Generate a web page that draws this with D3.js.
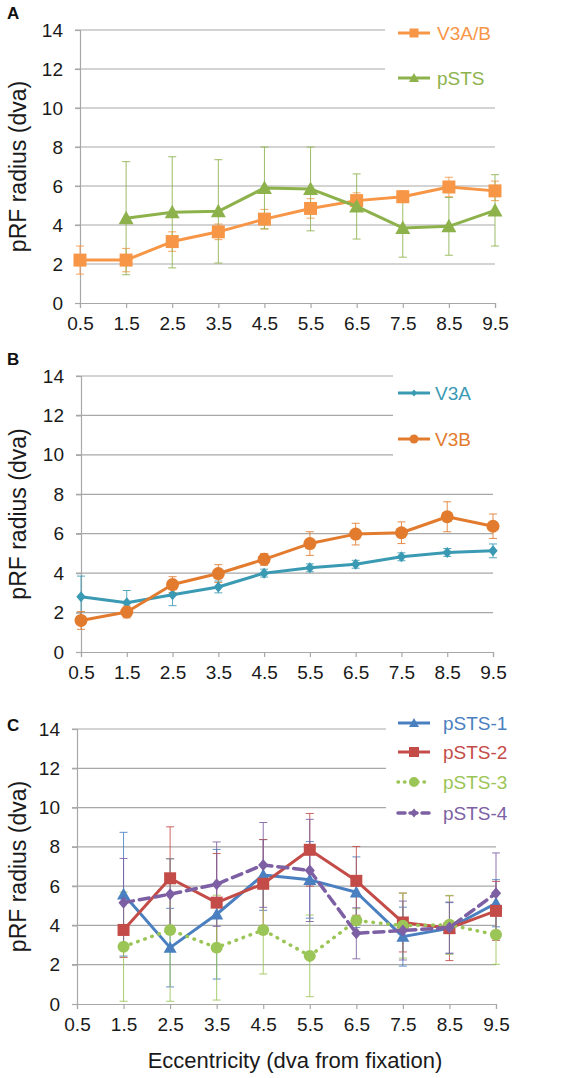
<!DOCTYPE html>
<html><head><meta charset="utf-8">
<script src="https://cdn.jsdelivr.net/npm/d3@7"></script>
<style>
html,body{margin:0;padding:0;background:#fff;}
svg{display:block;font-family:"Liberation Sans",Arial,sans-serif;}
</style></head>
<body>
<svg id="chart" width="568" height="1078"></svg>
<script>
// ---- data ----
const eccentricity = [0.5, 1.5, 2.5, 3.5, 4.5, 5.5, 6.5, 7.5, 8.5, 9.5];
const xTickLabels = ["0.5","1.5","2.5","3.5","4.5","5.5","6.5","7.5","8.5","9.5"];
const yTicks = [0, 2, 4, 6, 8, 10, 12, 14];

// Panel A
const v3abValues = [2.2, 2.2, 3.15, 3.65, 4.3, 4.85, 5.25, 5.45, 5.95, 5.75];
const v3abErrors = [0.72, 0.6, 0.5, 0.4, 0.5, 0.5, 0.4, 0.3, 0.5, 0.5];
const pstsValues = [null, 4.35, 4.65, 4.7, 5.9, 5.85, 4.95, 3.85, 3.93, 4.75];
const pstsErrors = [null, 2.9, 2.85, 2.65, 2.1, 2.15, 1.67, 1.5, 1.48, 1.83];

// Panel B
const v3aValues = [2.8, 2.5, 2.9, 3.3, 4.0, 4.27, 4.45, 4.83, 5.05, 5.13];
const v3aErrors = [1.05, 0.62, 0.55, 0.3, 0.2, 0.2, 0.2, 0.2, 0.2, 0.35];
const v3bValues = [1.6, 2.03, 3.42, 3.98, 4.7, 5.5, 5.98, 6.05, 6.86, 6.38];
const v3bErrors = [0.45, 0.3, 0.4, 0.45, 0.3, 0.6, 0.55, 0.55, 0.76, 0.62];

// Panel C
const psts1Values = [null, 5.59, 2.87, 4.57, 6.57, 6.32, 5.69, 3.43, 3.86, 5.13];
const psts1Errors = [null, 3.15, 2.0, 3.3, 1.8, 1.95, 1.8, 1.5, 1.3, 1.2];
const psts2Values = [null, 3.77, 6.4, 5.16, 6.12, 7.85, 6.27, 4.15, 3.86, 4.74];
const psts2Errors = [null, 1.4, 2.62, 2.5, 2.25, 1.85, 1.75, 1.5, 1.65, 1.5];
const psts3Values = [null, 2.92, 3.77, 2.87, 3.77, 2.45, 4.25, 3.99, 4.03, 3.52];
const psts3Errors = [null, 2.78, 3.63, 2.67, 2.24, 2.08, 0.6, 1.65, 1.5, 1.5];
const psts4Values = [null, 5.16, 5.59, 6.1, 7.08, 6.8, 3.6, 3.74, 3.89, 5.64];
const psts4Errors = [null, 2.25, 1.8, 2.15, 2.16, 2.6, 1.3, 1.5, 1.3, 2.05];

// ---- drawing ----
const svg = d3.select("#chart");
const FONT = '"Liberation Sans", Arial, sans-serif';
const gridColor = "#a8a8a8";

const panels = [
  { label: "A", left: 80, right: 495, top: 30, bottom: 303, legendEnd: 385,
    legendX: 398, legendY: [33, 78], textOff: 39,
    series: [
      { name: "V3A/B", values: v3abValues, errors: v3abErrors, color: "#f79646", marker: "square", size: 13, width: 3, dash: null, legendSize: 9 },
      { name: "pSTS", values: pstsValues, errors: pstsErrors, color: "#8db24c", marker: "triangle", size: 15, width: 3, dash: null, legendSize: 10 }
    ] },
  { label: "B", left: 81, right: 493, top: 376, bottom: 652, legendEnd: 393,
    legendX: 398, legendY: [393, 439], textOff: 37,
    series: [
      { name: "V3A", values: v3aValues, errors: v3aErrors, color: "#3a9ab3", marker: "diamond", size: 11, width: 3, dash: null, legendSize: 7 },
      { name: "V3B", values: v3bValues, errors: v3bErrors, color: "#e27b2e", marker: "circle", size: 13, width: 3, dash: null, legendSize: 9 }
    ] },
  { label: "C", left: 77, right: 496, top: 729, bottom: 1004, legendEnd: 386,
    legendX: 398, legendY: [723, 752, 782, 813], textOff: 45,
    series: [
      { name: "pSTS-1", values: psts1Values, errors: psts1Errors, color: "#4a7fc0", marker: "triangle", size: 13, width: 3, dash: null, legendSize: 10 },
      { name: "pSTS-2", values: psts2Values, errors: psts2Errors, color: "#c44c48", marker: "square", size: 12, width: 3, dash: null, legendSize: 10 },
      { name: "pSTS-3", values: psts3Values, errors: psts3Errors, color: "#9bc556", marker: "circle", size: 12, width: 3.5, dash: "0.5 7", legendSize: 10 },
      { name: "pSTS-4", values: psts4Values, errors: psts4Errors, color: "#7d5fa3", marker: "diamond", size: 12, width: 3.5, dash: "10 6", legendSize: 9 }
    ] }
];

function markerPath(type, size) {
  const h = size / 2;
  if (type === "square") return `M${-h},${-h}H${h}V${h}H${-h}Z`;
  if (type === "triangle") return `M0,${-h*1.0}L${h},${h*0.8}L${-h},${h*0.8}Z`;
  if (type === "diamond") return `M0,${-h}L${h*0.85},0L0,${h}L${-h*0.85},0Z`;
  if (type === "circle") return d3.arc()({innerRadius: 0, outerRadius: h, startAngle: 0, endAngle: 2*Math.PI});
  return "";
}

panels.forEach((p, pi) => {
  const x = d3.scaleLinear().domain([0.5, 9.5]).range([p.left, p.right]);
  const y = d3.scaleLinear().domain([0, 14]).range([p.bottom, p.top]);
  const g = svg.append("g");

  // gridlines
  yTicks.forEach(t => {
    if (t === 0) return;
    const xe = (t >= 12 || (pi > 0 && t === 10)) ? p.legendEnd : p.right;
    g.append("line").attr("x1", p.left - 5).attr("x2", xe)
      .attr("y1", y(t)).attr("y2", y(t))
      .attr("stroke", gridColor).attr("stroke-width", 1.2);
  });

  // y axis
  const yAxis = d3.axisLeft(y).tickValues(yTicks).tickSize(5).tickPadding(12).tickFormat(d3.format("d"));
  const ya = g.append("g").attr("transform", `translate(${p.left},0)`).call(yAxis);
  ya.select(".domain").attr("stroke", gridColor).attr("stroke-width", 1.2);
  ya.selectAll(".tick line").attr("stroke", gridColor).attr("stroke-width", 1.2);
  ya.selectAll(".tick text").attr("font-size", 19).attr("font-family", FONT).attr("fill", "#1a1a1a");

  // x axis
  const xAxis = d3.axisBottom(x).tickValues(eccentricity).tickSize(5).tickPadding(9)
    .tickFormat((d, i) => xTickLabels[i]);
  const xa = g.append("g").attr("transform", `translate(0,${p.bottom})`).call(xAxis);
  xa.select(".domain").attr("stroke", gridColor).attr("stroke-width", 1.2);
  xa.selectAll(".tick line").attr("stroke", gridColor).attr("stroke-width", 1.2);
  xa.selectAll(".tick text").attr("font-size", 19).attr("font-family", FONT).attr("fill", "#1a1a1a");

  // y title
  g.append("text")
    .attr("transform", `translate(26,${(p.top + p.bottom) / 2}) rotate(-90)`)
    .attr("text-anchor", "middle").attr("font-size", 23).attr("font-family", FONT)
    .attr("fill", "#1a1a1a").text("pRF radius (dva)");

  // panel label
  g.append("text").attr("x", 7).attr("y", p.top - 11 + (pi === 2 ? 13 : 0))
    .attr("font-size", 17).attr("font-weight", "bold").attr("font-family", FONT)
    .attr("fill", "#111").text(p.label);

  // error bars
  p.series.forEach(s => {
    const eg = g.append("g");
    s.values.forEach((v, i) => {
      if (v == null) return;
      const e = s.errors[i];
      const cx = x(eccentricity[i]);
      eg.append("line").attr("x1", cx).attr("x2", cx).attr("y1", y(v - e)).attr("y2", y(v + e))
        .attr("stroke", s.color).attr("stroke-width", 1).attr("opacity", 0.85);
      [v - e, v + e].forEach(ev => {
        eg.append("line").attr("x1", cx - 4).attr("x2", cx + 4).attr("y1", y(ev)).attr("y2", y(ev))
          .attr("stroke", s.color).attr("stroke-width", 1).attr("opacity", 0.85);
      });
    });
  });

  // lines and markers
  p.series.forEach(s => {
    const pts = s.values.map((v, i) => ({x: eccentricity[i], v})).filter(d => d.v != null);
    const line = d3.line().x(d => x(d.x)).y(d => y(d.v));
    const path = g.append("path").datum(pts).attr("d", line).attr("fill", "none")
      .attr("stroke", s.color).attr("stroke-width", s.width).attr("stroke-linejoin", "round");
    if (s.dash) path.attr("stroke-dasharray", s.dash).attr("stroke-linecap", "round");
    g.selectAll(null).data(pts).enter().append("path")
      .attr("transform", d => `translate(${x(d.x)},${y(d.v)})`)
      .attr("d", markerPath(s.marker, s.size)).attr("fill", s.color);
  });

  // legend
  p.series.forEach((s, si) => {
    const ly = p.legendY[si];
    const lg = g.append("g");
    const ln = lg.append("line").attr("x1", p.legendX).attr("x2", p.legendX + 32)
      .attr("y1", ly).attr("y2", ly).attr("stroke", s.color).attr("stroke-width", s.width);
    if (s.dash) ln.attr("stroke-dasharray", s.dash === "10 6" ? "7 5" : "0.5 6").attr("stroke-linecap", "round");
    lg.append("path").attr("transform", `translate(${p.legendX + 16},${ly})`)
      .attr("d", markerPath(s.marker, s.legendSize)).attr("fill", s.color);
    lg.append("text").attr("x", p.legendX + p.textOff).attr("y", ly).attr("dy", "0.35em")
      .attr("font-size", 19).attr("font-family", FONT).attr("fill", s.color).text(s.name);
  });

  if (pi === 2) {
    g.append("text").attr("x", 295).attr("y", 1068).attr("text-anchor", "middle")
      .attr("font-size", 22).attr("font-family", FONT).attr("fill", "#1a1a1a")
      .text("Eccentricity (dva from fixation)");
  }
});
</script>
</body></html>
